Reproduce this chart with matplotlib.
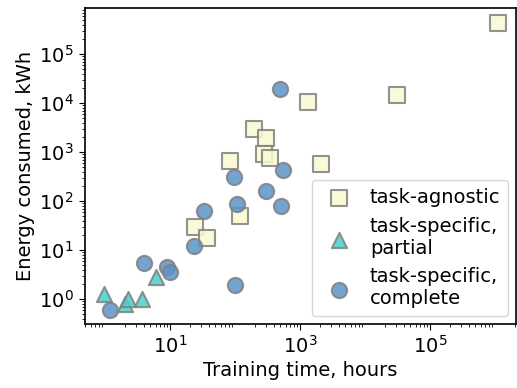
import matplotlib
matplotlib.use('Agg')
import matplotlib.pyplot as plt

# task-agnostic
agn_time = [1.1e6, 1320, 31000, 195, 295, 277, 350, 83, 2140, 120, 24.3, 36.5]
agn_energy = [4.4e5, 1.07e4, 1.5e4, 3000, 1900, 910, 755, 650, 575, 49, 29, 17.6]

# task-specific, partial
par_time = [0.98, 2.05, 2.3, 3.7, 6.0]
par_energy = [1.27, 0.79, 0.99, 1.0, 2.85]

# task-specific, complete
com_time = [500, 540, 96.5, 295, 107, 515, 33, 23.4, 4.0, 9.0, 9.9, 99, 1.2]
com_energy = [19400, 437, 314, 162, 89, 79, 63, 12.3, 5.35, 4.56, 3.6, 1.9, 0.59]

plt.rcParams['font.size'] = 14
plt.rcParams['axes.linewidth'] = 1.2
plt.rcParams['xtick.major.size'] = 4.5
plt.rcParams['ytick.major.size'] = 4.5
plt.rcParams['xtick.minor.size'] = 2.5
plt.rcParams['ytick.minor.size'] = 2.5

fig = plt.figure(figsize=(5.17, 3.88), dpi=100)
ax = fig.add_axes([0.164, 0.165, 0.834, 0.814])

common = dict(s=120, edgecolors='gray', linewidths=1.5, alpha=0.85)
ax.scatter(agn_time, agn_energy, marker='s', c='#fafad2', label='task-agnostic', **common)
ax.scatter(par_time, par_energy, marker='^', c='#48d1cc', label='task-specific,\npartial', **common)
ax.scatter(com_time, com_energy, marker='o', c='#5b93c7', label='task-specific,\ncomplete', **common)

ax.set_xscale('log')
ax.set_yscale('log')
ax.set_xlim(0.49, 2.1e6)
ax.set_ylim(0.31, 8.7e5)
ax.set_xticks([1e1, 1e3, 1e5])
ax.set_xlabel('Training time, hours', labelpad=3)
ax.set_ylabel('Energy consumed, kWh', labelpad=3)
ax.legend(loc='lower right', handletextpad=0.6, borderaxespad=0.4)

fig.savefig('out.png', dpi=100)
